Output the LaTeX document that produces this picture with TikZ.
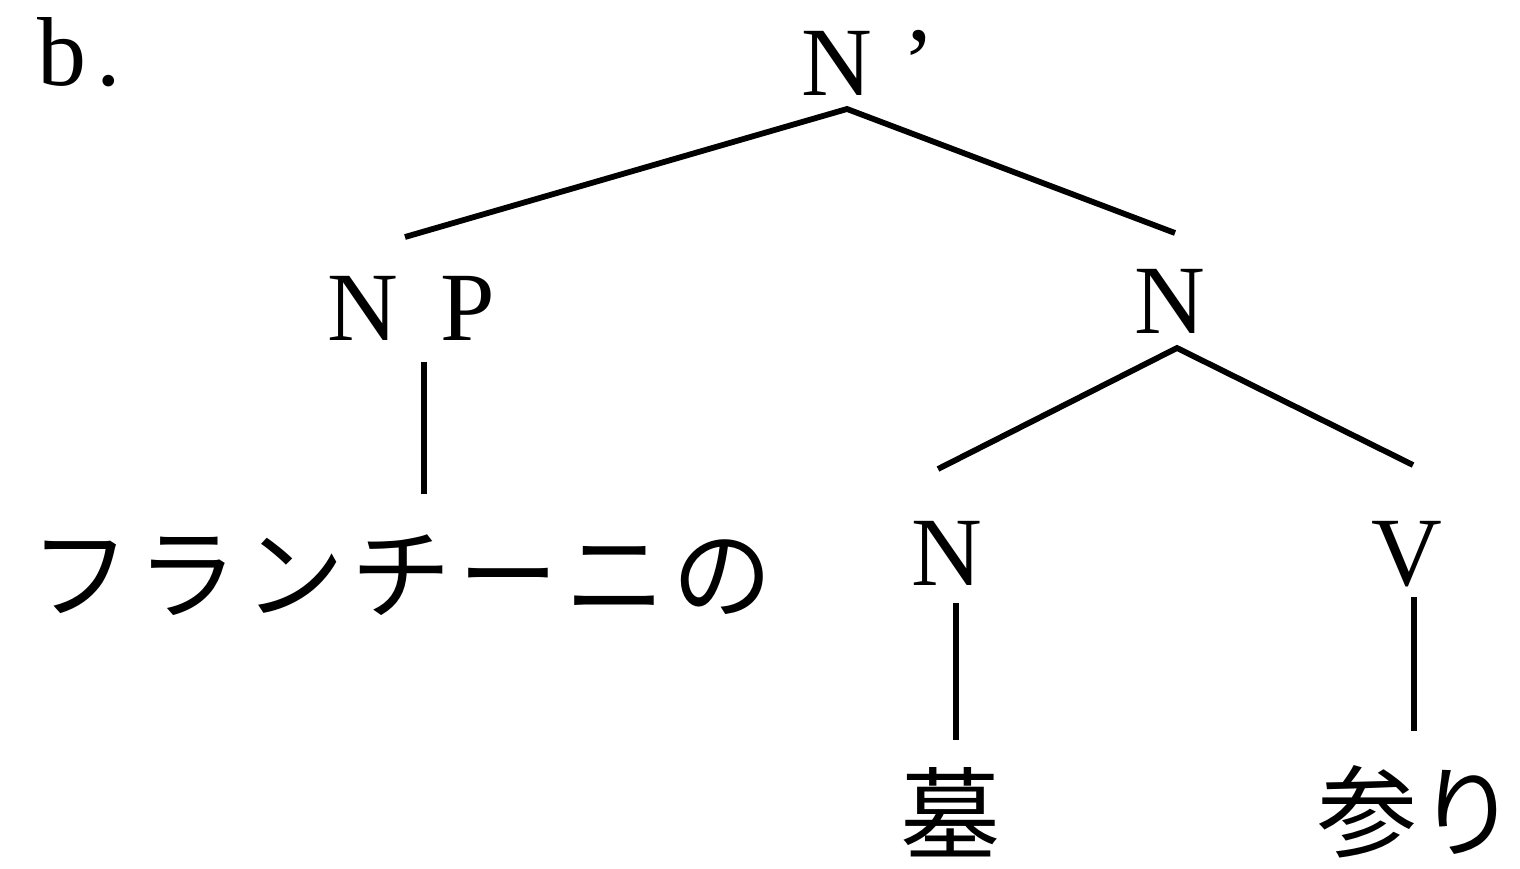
\documentclass[tikz,border=0pt]{standalone}
\usepackage{fontspec}
\setmainfont{Liberation Serif}
\newfontfamily\jp[LetterSpace=7]{Noto Sans CJK JP}
\newfontfamily\jpn{Noto Sans CJK JP}
\begin{document}
\begin{tikzpicture}[x=0.5pt,y=-0.5pt,
  lat/.style={inner sep=0pt,anchor=base west,font=\fontsize{49pt}{58pt}\selectfont},
  jpt/.style={inner sep=0pt,anchor=west,font=\jp\fontsize{50pt}{60pt}\selectfont},
  jpk/.style={inner sep=0pt,anchor=west,font=\jpn\fontsize{50pt}{60pt}\selectfont},
  branch/.style={line width=2.9pt}]
\useasboundingbox (0,0) rectangle (1520,868);
% labels
\node[lat] (lbl) at (37,85) {b\hspace{5pt}.};
\node[lat] (top) at (801,95) {N\hspace{15pt}’};
\node[lat] (np) at (327,340) {N\hspace{21pt}P};
\node[lat] (nr) at (1134,333) {N};
\node[lat] (nl) at (911,585) {N};
\node[lat] (v) at (1371,585) {V};
\node[jpt] (fr) at (30,575) {フランチーニの};
\node[jpk] (haka) at (900,812) {墓};
\node[jpk] (mairi) at (1317,812) {参り};
% connector ends
\coordinate (topA) at (847,109);
\coordinate (npT) at (405,237);
\coordinate (nrT) at (1175,233);
\coordinate (npB) at (424,362);
\coordinate (frT) at (424,494);
\coordinate (nrA) at (1177,348);
\coordinate (nlT) at (938,469);
\coordinate (vT) at (1413,465);
\coordinate (nlB) at (956,603);
\coordinate (hakaT) at (956,740);
\coordinate (vB) at (1414,597);
\coordinate (mairiT) at (1414,731);
% branches
\draw[branch] (npT) -- (topA) -- (nrT);
\draw[branch] (npB) -- (frT);
\draw[branch] (nlT) -- (nrA) -- (vT);
\draw[branch] (nlB) -- (hakaT);
\draw[branch] (vB) -- (mairiT);
\end{tikzpicture}
\end{document}
